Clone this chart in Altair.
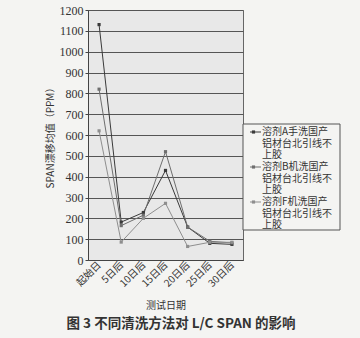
import altair as alt
import pandas as pd

cats = ["起始日", "5日后", "10日后", "15日后", "20日后", "25日后", "30日后"]
series_names = ["溶剂A手洗国产铝材台北引线不上胶",
                "溶剂B机洗国产铝材台北引线不上胶",
                "溶剂F机洗国产铝材台北引线不上胶"]
vals_a = [1130, 182, 228, 430, 158, 80, 75]
vals_b = [820, 165, 215, 520, 158, 90, 82]
vals_f = [620, 86, 200, 272, 65, 85, 85]
colors = ["#3a3a3a", "#6e6e6e", "#8e8e8e"]

rows = []
for name, vals in zip(series_names, [vals_a, vals_b, vals_f]):
    for c, v in zip(cats, vals):
        rows.append({"day": c, "value": v, "series": name})
df = pd.DataFrame(rows)

# legend layout table (wrapped labels, pixel rows inside the plot frame)
leg_rows = []
sym_rows = []
for k, name in enumerate(series_names):
    parts = [name[0:7], name[7:14], name[14:]]
    y0 = 122 + 35 * k
    sym_rows.append({"series": name, "py": y0})
    for j, p in enumerate(parts):
        leg_rows.append({"series": name, "line": p, "py": y0 + 11.7 * j})
leg_df = pd.DataFrame(leg_rows)
sym_df = pd.DataFrame(sym_rows)

cscale = alt.Scale(domain=series_names, range=colors)

x = alt.X("day:N", sort=cats, scale=alt.Scale(paddingInner=0, paddingOuter=0),
          axis=alt.Axis(labelAngle=315, labelAlign="right", labelBaseline="middle",
                        labelFont="Noto Sans CJK SC", labelFontSize=10, labelColor="#333",
                        ticks=False, domainColor="#444", labelPadding=3,
                        title="测试日期", titleFont="Noto Sans CJK SC", titleFontSize=10,
                        titleFontWeight="normal", titleColor="#333", titleY=40,
                        titleBaseline="top"))
y = alt.Y("value:Q", scale=alt.Scale(domain=[0, 1200], nice=False),
          axis=alt.Axis(values=list(range(0, 1201, 100)), format="d",
                        labelFont="Liberation Serif, Times New Roman, serif",
                        labelFontSize=12, labelColor="#333", gridColor="#555", gridWidth=1,
                        tickColor="#444", tickSize=3, domainColor="#444",
                        title="SPAN漂移均值（PPM）", titleFont="Noto Sans CJK SC",
                        titleFontSize=10, titleFontWeight="normal", titleColor="#333",
                        titleX=-38, titleY=125, titleAngle=270, titleAlign="center",
                        titleBaseline="middle"))

lines = alt.Chart(df).mark_line(strokeWidth=1, point=alt.OverlayMarkDef(shape="square", size=10, filled=True)).encode(
    x=x, y=y, color=alt.Color("series:N", scale=cscale, legend=None))

leg_box = alt.Chart(pd.DataFrame({"a": [0]})).mark_rect(
    fill="#f4f4f2", stroke="#555", strokeWidth=1).encode(
    x=alt.value(155), x2=alt.value(252), y=alt.value(114), y2=alt.value(220))

leg_sym = alt.Chart(sym_df).mark_rule(strokeWidth=1).encode(
    x=alt.value(162), x2=alt.value(173), y=alt.Y("py:Q", scale=None, axis=None),
    color=alt.Color("series:N", scale=cscale, legend=None))
leg_pt = alt.Chart(sym_df).mark_square(size=10, opacity=1).encode(
    x=alt.value(165.5), y=alt.Y("py:Q", scale=None, axis=None),
    color=alt.Color("series:N", scale=cscale, legend=None))
leg_txt = alt.Chart(leg_df).mark_text(
    font="Noto Sans CJK SC", fontSize=10, color="#333", align="left", baseline="middle").encode(
    x=alt.value(174), y=alt.Y("py:Q", scale=None, axis=None), text="line:N")

caption = alt.Chart(pd.DataFrame({"t": ["图 3    不同清洗方法对 L/C SPAN 的影响"]})).mark_text(
    font="Noto Sans CJK SC", fontSize=13.5, fontWeight="bold", color="#333", align="center",
    baseline="middle").encode(text="t:N", x=alt.value(93), y=alt.value(314))

chart = alt.layer(lines, leg_box, leg_sym, leg_pt, leg_txt, caption).resolve_scale(
    y="independent").properties(
    width=155, height=250,
    autosize=alt.AutoSizeParams(type="none"),
    padding={"left": 88, "top": 10, "right": 117, "bottom": 78},
    background="#f4f4f2",
).configure_view(fill="#e8e8e8", stroke="#666", strokeWidth=1)

chart.save("out.html", embed_options={"renderer": "svg", "actions": False})
